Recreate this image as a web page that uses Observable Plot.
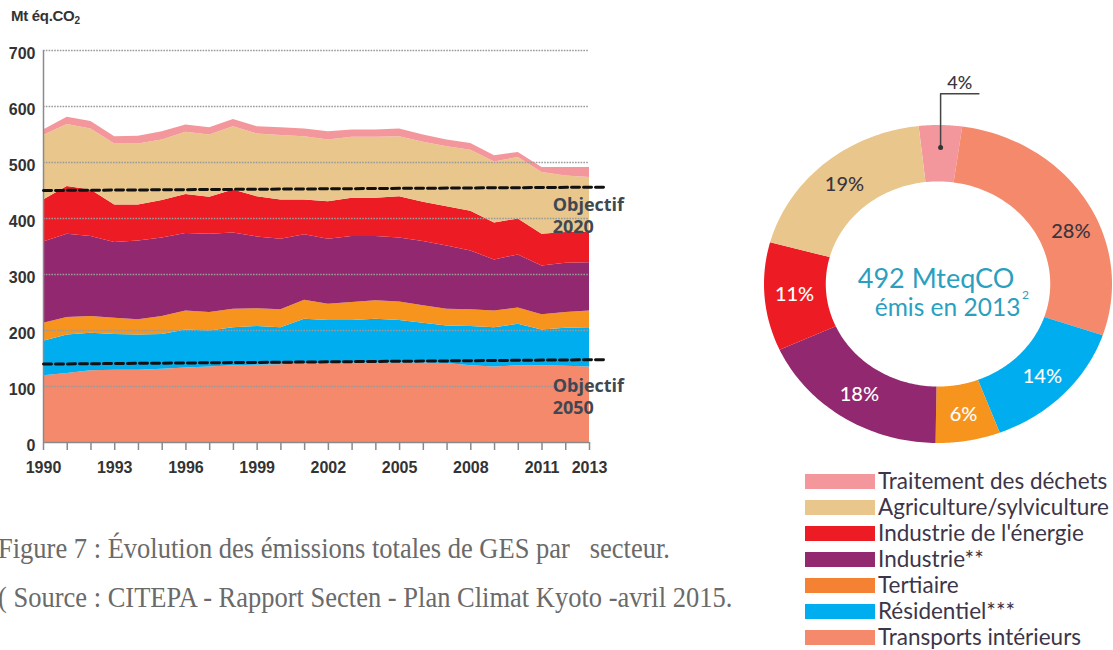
<!DOCTYPE html>
<html><head><meta charset="utf-8">
<script src="https://cdn.jsdelivr.net/npm/d3@7"></script>
<script src="https://cdn.jsdelivr.net/npm/@observablehq/plot@0.6"></script>
<style>
body{margin:0;background:#fff;width:1113px;height:650px;overflow:hidden;position:relative}
#area{position:absolute;left:0;top:0}
#donut{position:absolute;left:750px;top:60px}
#ytitle{position:absolute;left:11px;top:7px;font:bold 15px "Liberation Sans Narrow","Liberation Sans",sans-serif;color:#333;letter-spacing:-0.3px}
#ytitle sub{font-size:10px;vertical-align:-3px}
.cap{position:absolute;left:-2px;font-family:"Liberation Serif",serif;font-size:26.5px;line-height:30px;color:#6a6a6a;white-space:pre;transform:scaleY(1.1);transform-origin:0 24px}
#legend{position:absolute;left:805px;top:468px}
.lg{height:26px;display:flex;align-items:center}
.sw{width:70px;height:15px;margin-right:3px}
.lt{font-family:Lato,sans-serif;font-size:22.5px;color:#3d3548;line-height:26px}
</style></head><body>
<div id="ytitle">Mt éq.CO<sub>2</sub></div>
<div id="area"></div>
<div id="donut"></div>
<div id="legend"></div>
<div class="cap" style="top:534px">Figure 7 : Évolution des émissions totales de GES par   secteur.</div>
<div class="cap" style="top:583px">( Source : CITEPA - Rapport Secten - Plan Climat Kyoto -avril 2015.</div>
<script>
// ---------- data ----------
const years = [1990,1991,1992,1993,1994,1995,1996,1997,1998,1999,2000,2001,2002,2003,2004,2005,2006,2007,2008,2009,2010,2011,2012,2013];
const yearLabels = [1990,1993,1996,1999,2002,2005,2008,2011,2013];
const yTicks = [0,100,200,300,400,500,600,700];

// sectors, stacked bottom to top
const sectors = ["Transports intérieurs","Résidentiel***","Tertiaire","Industrie**","Industrie de l'énergie","Agriculture/sylviculture","Traitement des déchets"];
const sectorColors = ["#f4896b","#00adef","#f7941d","#92286f","#ed1c24","#e9c78c","#f4979c"];

const transports   = [119,123,128,129,129,131,133,135,137,138,139,140,141,142,142,142,142,141,137,135,137,137,136,135];
const residentiel  = [62,69,67,64,63,62,68,64,68,69,66,80,77,76,78,76,71,67,70,70,74,64,68,70];
const tertiaire    = [32,31,30,29,27,32,34,33,33,32,32,34,29,32,33,33,31,30,30,30,29,27,28,30];
const industrie    = [145,149,143,135,141,140,138,140,136,128,126,117,116,118,115,114,115,113,105,91,95,87,88,86];
const energie      = [75,85,83,67,64,67,70,66,77,72,70,62,67,68,68,74,70,70,71,66,64,57,55,54];
const agriculture  = [115,111,109,109,109,108,111,111,113,112,115,113,110,109,109,107,107,107,109,109,110,110,101,98];
const dechets      = [10,13,13,13,14,15,13,13,13,13,14,14,15,13,13,14,13,12,12,11,9,9,15,18];
const series = [transports,residentiel,tertiaire,industrie,energie,agriculture,dechets];

// objectives (dashed lines)
const objYears = [1990, 2013.7];
const objectif2020 = [450, 456];
const objectif2050 = [140, 148];
const objLabels = [{text:"Objectif\n2020", year:2011.45, value:407},{text:"Objectif\n2050", year:2011.45, value:83}];

// donut 2013 (clockwise from the top)
const donutSectors = ["Traitement des déchets","Transports intérieurs","Résidentiel***","Tertiaire","Industrie**","Industrie de l'énergie","Agriculture/sylviculture"];
const donutShares  = [4,28,14,6,18,11,19];
const donutDark    = ["Transports intérieurs","Agriculture/sylviculture"];
const centerLine1 = "492 MteqCO";
const centerLine2 = "émis en 2013";
const legendOrder = ["Traitement des déchets","Agriculture/sylviculture","Industrie de l'énergie","Industrie**","Tertiaire","Résidentiel***","Transports intérieurs"];
const legendColors = ["#f4979c","#e9c78c","#ed1c24","#92286f","#f58233","#00adef","#f4896b"];

// ---------- area chart ----------
const rows = [];
years.forEach((yr,i)=>sectors.forEach((s,j)=>rows.push({year:yr, sector:s, value:series[j][i]})));
const obj = (vals,name)=>objYears.map((x,i)=>({year:x, value:vals[i], name}));
const objRows = [...obj(objectif2020,"2020"), ...obj(objectif2050,"2050")];
const axisFont = '"Liberation Sans Narrow","Liberation Sans",sans-serif';

const area = Plot.plot({
  width:640, height:480, marginLeft:43, marginRight:51, marginTop:50, marginBottom:38,
  style:{fontFamily:axisFont, fontSize:"16px", fontWeight:"bold", color:"#333", background:"transparent", overflow:"visible"},
  x:{domain:[1990,2013], label:null},
  y:{domain:[0,700], label:null},
  color:{domain:sectors, range:sectorColors},
  marks:[
    Plot.areaY(rows,{x:"year", y:"value", fill:"sector", order:sectors}),
    Plot.ruleY(yTicks.filter(d=>d>0),{stroke:"#9a9a9a", strokeWidth:1.4, strokeDasharray:"1.6,1.2"}),
    Plot.ruleY([0],{stroke:"#8a8a8a", strokeWidth:1.5}),
    Plot.ruleX([1990],{y1:0, y2:700, stroke:"#8a8a8a", strokeWidth:1.5}),
    Plot.line(objRows,{x:"year", y:"value", z:"name", stroke:"#111", strokeWidth:3, strokeDasharray:"8,4"}),
    Plot.text(objLabels,{x:"year", y:"value", text:"text", textAnchor:"start", lineHeight:1.22, fontFamily:'"Open Sans",sans-serif', fontSize:18, fontWeight:"bold", fill:"#3f4752"}),
    Plot.axisY({ticks:yTicks, tickSize:0, tickPadding:8, dy:3, fill:"#333"}),
    Plot.axisX({ticks:years, tickSize:8, tickPadding:11, stroke:"#8a8a8a", strokeWidth:1.5, fill:"#333", tickFormat:d=>yearLabels.includes(d)?String(d):""})
  ]
});
document.getElementById("area").append(area);

// ---------- donut ----------
const inner = 0.645;
const startDeg = -6.4;
let acc = startDeg;
const slices = donutSectors.map((s,i)=>{const a0=acc, a1=acc+donutShares[i]*3.6; acc=a1; return {sector:s, share:donutShares[i], a0, a1, mid:(a0+a1)/2};});
const rad = d=>d*Math.PI/180;
const ring = slices.flatMap(sl=>d3.range(0,61).map(k=>{
  const a = rad(sl.a0+(sl.a1-sl.a0)*k/60);
  return {sector:sl.sector, ox:Math.sin(a), oy:Math.cos(a), ix:inner*Math.sin(a), iy:inner*Math.cos(a)};
}));
const lr = 0.83;
const labelAngle = d=> d.sector==="Transports intérieurs" ? d.mid+8 : d.mid;
const lx = d=>lr*Math.sin(rad(labelAngle(d)));
const ly = d=>lr*Math.cos(rad(labelAngle(d)));
const waste = slices[0];
const wx = 0.86*Math.sin(rad(waste.mid));
const leader = [{x:wx, y:0.862},{x:wx, y:1.20},{x:wx+0.22, y:1.20}];
const pctFont = 'Lato,sans-serif';

const donut = Plot.plot({
  width:363, height:400, margin:0,
  style:{background:"transparent", overflow:"visible"},
  x:{domain:[-1.0805,1.0057], axis:null},
  y:{domain:[-1.1069,1.4088], axis:null},
  color:{domain:sectors, range:sectorColors},
  marks:[
    Plot.area(ring,{x1:"ox", y1:"oy", x2:"ix", y2:"iy", fill:"sector", z:"sector"}),
    Plot.text(slices.filter(d=>d.share!==4 && !donutDark.includes(d.sector)),{x:lx, y:ly, text:d=>d.share+"%", fill:"white", fontFamily:pctFont, fontSize:20, fontWeight:500}),
    Plot.text(slices.filter(d=>donutDark.includes(d.sector)),{x:lx, y:ly, text:d=>d.share+"%", fill:"#3a3540", fontFamily:pctFont, fontSize:20, fontWeight:500}),
    Plot.line(leader,{x:"x", y:"y", stroke:"#444", strokeWidth:1.5}),
    Plot.dot([leader[0]],{x:"x", y:"y", r:2.5, fill:"#333"}),
    Plot.text([waste],{x:wx+0.11, y:1.20, dy:-10, text:d=>d.share+"%", fill:"#3a3540", fontFamily:pctFont, fontSize:18, fontWeight:500}),
    Plot.text([centerLine1],{x:-0.014, y:0.035, text:d=>d, fill:"#2b9fbf", fontFamily:pctFont, fontSize:27}),
    Plot.text([centerLine2],{x:0.052, y:-0.151, text:d=>d, fill:"#2b9fbf", fontFamily:pctFont, fontSize:24.5}),
    Plot.text(["2"],{x:0.50, y:-0.065, text:d=>d, fill:"#2b9fbf", fontFamily:pctFont, fontSize:12})
  ]
});
document.getElementById("donut").append(donut);

// ---------- legend ----------
const lg = document.getElementById("legend");
legendOrder.forEach((s,i)=>{
  const row = document.createElement("div"); row.className="lg";
  const sw = document.createElement("div"); sw.className="sw"; sw.style.background=legendColors[i];
  const t = document.createElement("span"); t.className="lt"; t.textContent=s;
  row.append(sw,t); lg.append(row);
});
</script>
</body></html>
